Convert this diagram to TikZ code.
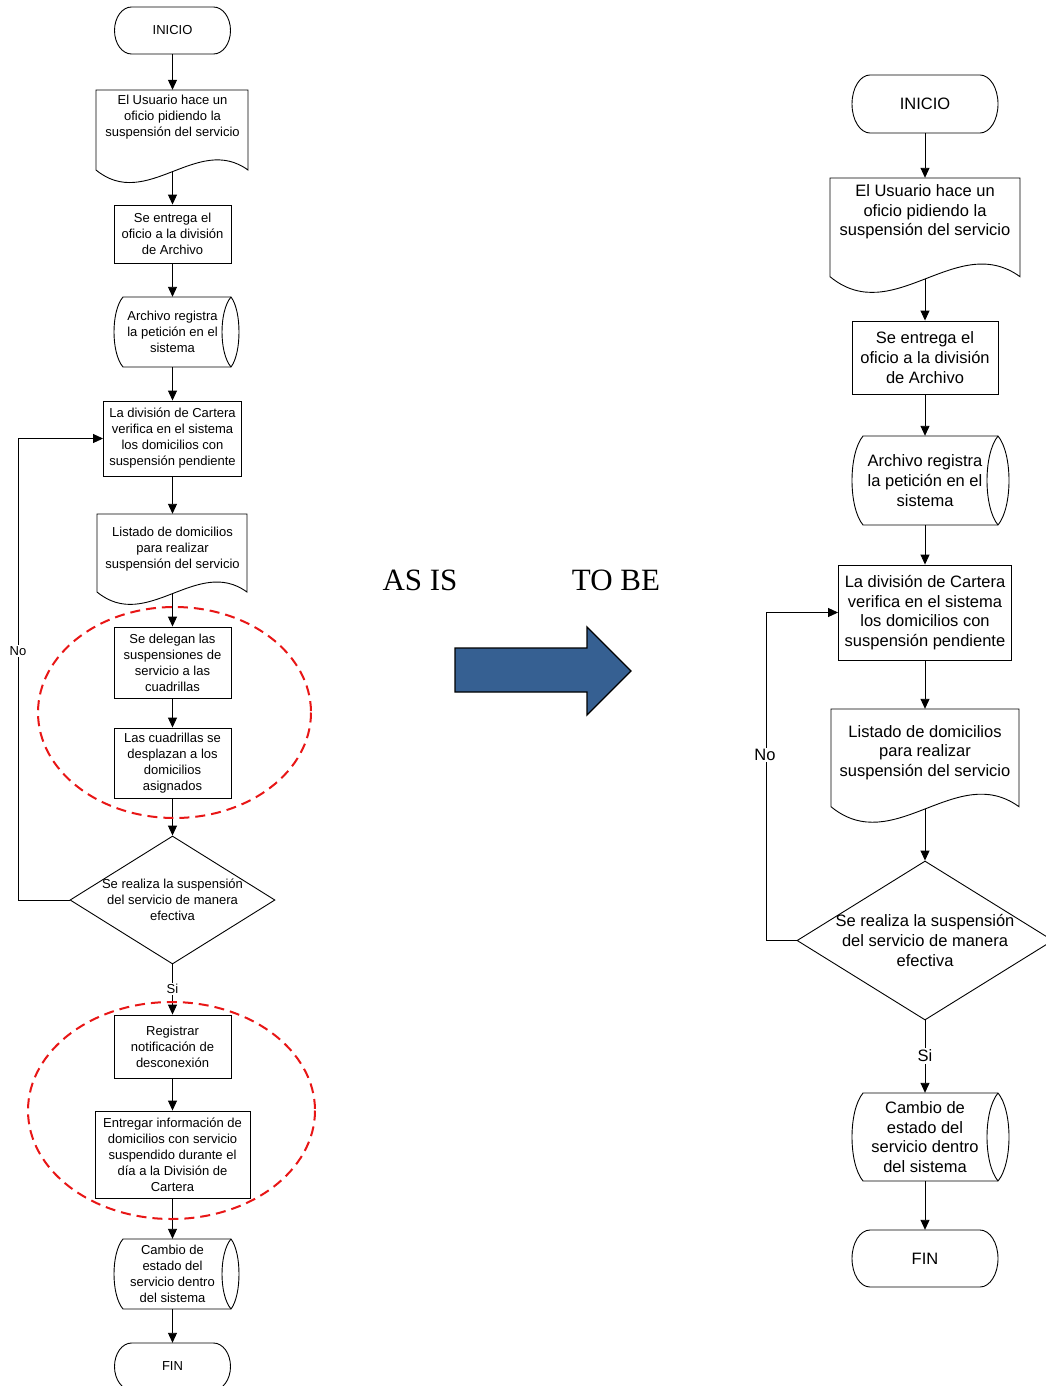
\documentclass[tikz,border=0pt]{standalone}
\usepackage{fontspec}
\setmainfont{Liberation Sans}
\newfontfamily\titleserif{Liberation Serif}
\usetikzlibrary{arrows.meta,shapes.geometric}

\definecolor{arrowblue}{RGB}{54,96,146}
\definecolor{groupred}{RGB}{232,22,22}

% terminal (start/end): #1 cx, #2 cy, #3 half width, #4 half height, #5 end radius
\newcommand\termshape[5]{%
  \pgfmathsetmacro\tmL{#1-#3}\pgfmathsetmacro\tmR{#1+#3}%
  \pgfmathsetmacro\tmT{#2-#4}\pgfmathsetmacro\tmB{#2+#4}%
  \pgfmathsetmacro\tmLi{#1-#3+#5}\pgfmathsetmacro\tmRi{#1+#3-#5}%
  \pgfmathsetmacro\tmKx{0.5523*#5}\pgfmathsetmacro\tmKy{0.5523*#4}%
  \draw[outline] (\tmLi,\tmT) -- (\tmRi,\tmT)
    .. controls +(\tmKx,0) and +(0,-\tmKy) .. (\tmR,#2)
    .. controls +(0,\tmKy) and +(\tmKx,0) .. (\tmRi,\tmB)
    -- (\tmLi,\tmB)
    .. controls +(-\tmKx,0) and +(0,\tmKy) .. (\tmL,#2)
    .. controls +(0,-\tmKy) and +(-\tmKx,0) .. (\tmLi,\tmT) -- cycle;
}

% document with wavy bottom: #1 left x, #2 right x, #3 top y, #4 y of the wave ends
\newcommand\docshape[4]{%
  \pgfmathsetmacro\dW{#2-#1}%
  \pgfmathsetmacro\dA{#4+0.274*\dW}%
  \pgfmathsetmacro\dB{#4-0.242*\dW}%
  \pgfmathsetmacro\dPa{#1+0.333*\dW}%
  \pgfmathsetmacro\dPb{#1+0.667*\dW}%
  \draw[outline] (#1,#4) -- (#1,#3) -- (#2,#3) -- (#2,#4)
    .. controls (\dPb,\dB) and (\dPa,\dA) .. (#1,#4) -- cycle;
}

% stored data: #1 leftmost x, #2 left corner x, #3 right corner x, #4 rightmost x,
% #5 inner arc x, #6 top y, #7 bottom y
\newcommand\storeshape[7]{%
  \pgfmathsetmacro\sH{#7-#6}%
  \pgfmathsetmacro\sTa{#6+0.2*\sH}\pgfmathsetmacro\sBa{#7-0.2*\sH}%
  \pgfmathsetmacro\sLc{#1-(#2-#1)/3}%
  \pgfmathsetmacro\sRc{#4+(#4-#3)/3}%
  \pgfmathsetmacro\sIc{#5-(#3-#5)/3}%
  \draw[outline] (#2,#6) -- (#3,#6)
    .. controls (\sRc,\sTa) and (\sRc,\sBa) .. (#3,#7) -- (#2,#7)
    .. controls (\sLc,\sBa) and (\sLc,\sTa) .. (#2,#6) -- cycle;
  \draw[outline] (#3,#6) .. controls (\sIc,\sTa) and (\sIc,\sBa) .. (#3,#7);
}

\begin{document}
\begin{tikzpicture}[x=1pt,y=-1pt,
  outline/.style={line width=0.9pt},
  ghost/.style={inner sep=0pt, align=center},
  box/.style={draw, line width=0.9pt, inner sep=0pt, align=center},
  Lt/.style={font=\fontsize{13}{16}\selectfont},
  Rt/.style={font=\fontsize{16.5}{19.7}\selectfont},
  flow/.style={line width=0.9pt, -{Triangle[length=10pt,width=9pt]}},
  lbl/.style={fill=white, inner sep=1.5pt},
  groupring/.style={draw=groupred, line width=2pt, dash pattern=on 10pt off 6pt},
  decision/.style={draw, line width=0.9pt, diamond, inner sep=0pt}
]
\fill[white] (0,0) rectangle (1045,1386);
\useasboundingbox (0,0) rectangle (1045,1386);

% ---------------- current process (left) ----------------
\termshape{172.5}{30.5}{58}{23.5}{17}
\node[ghost,Lt,minimum width=116,minimum height=47] (li) at (172.5,30.5) {INICIO};

\docshape{96}{248}{90}{170}
\node[ghost,Lt,minimum width=152,minimum height=54] (ld1) at (172.5,117)
  {El Usuario hace un\\oficio pidiendo la\\suspensión del servicio};
\coordinate (ld1b) at (172.5,172);

\node[box,Lt,minimum width=117,minimum height=58] (lb2) at (172.5,234)
  {Se entrega el\\oficio a la división\\de Archivo};

\storeshape{114}{123}{231}{239}{222}{297}{367}
\node[ghost,Lt,minimum width=116,minimum height=70] (ls3) at (172.5,332)
  {Archivo registra\\la petición en el\\sistema};

\node[box,Lt,minimum width=138,minimum height=75] (lb4) at (172.5,438.5)
  {La división de Cartera\\verifica en el sistema\\los domicilios con\\suspensión pendiente};

\docshape{97}{247}{514}{592}
\node[ghost,Lt,minimum width=150,minimum height=70] (ld5) at (172.5,549)
  {Listado de domicilios\\para realizar\\suspensión del servicio};
\coordinate (ld5b) at (172.5,594);

\node[box,Lt,minimum width=117,minimum height=71] (lb6) at (172.5,662.5)
  {Se delegan las\\suspensiones de\\servicio a las\\cuadrillas};

\node[box,Lt,minimum width=117,minimum height=70] (lb7) at (172.5,763)
  {Las cuadrillas se\\desplazan a los\\domicilios\\asignados};

\node[decision,minimum width=205,minimum height=128,
  label={[name=lq8t,Lt,align=center]center:{Se realiza la suspensión\\del servicio de manera\\efectiva}}]
  (lq8) at (172.5,900) {};

\node[box,Lt,minimum width=117,minimum height=63] (lb9) at (172.5,1046.5)
  {Registrar\\notificación de\\desconexión};

\node[box,Lt,minimum width=155,minimum height=87] (lb10) at (172.5,1154.5)
  {Entregar información de\\domicilios con servicio\\suspendido durante el\\día a la División de\\Cartera};

\storeshape{114}{123}{231}{239}{222}{1239}{1309}
\node[ghost,Lt,minimum width=116,minimum height=70] (ls11) at (172.5,1274)
  {Cambio de\\estado del\\servicio dentro\\del sistema};

\termshape{172.5}{1366.5}{58}{23.5}{17}
\node[ghost,Lt,minimum width=116,minimum height=47] (lf) at (172.5,1366.5) {FIN};

\draw[flow] (li) -- (ld1);
\draw[flow] (ld1b) -- (lb2);
\draw[flow] (lb2) -- (ls3);
\draw[flow] (ls3) -- (lb4);
\draw[flow] (lb4) -- (ld5);
\draw[flow] (ld5b) -- (lb6);
\draw[flow] (lb6) -- (lb7);
\draw[flow] (lb7) -- (lq8);
\draw[flow] (lq8) -- (lb9);
\draw[flow] (lb9) -- (lb10);
\draw[flow] (lb10) -- (ls11);
\draw[flow] (ls11) -- (lf);
\coordinate (lnoc) at (18,900);
\draw[flow] (lq8.west) -- (lnoc) |- (lb4);
\node[lbl,Lt] (lno) at (18,651) {No};
\node[lbl,Lt] (lsi) at (172.5,989) {Si};

% groups marked for change
\draw[groupring] (174.5,712.5) ellipse [x radius=136.5, y radius=105.5];
\draw[groupring] (171.5,1110.5) ellipse [x radius=143.5, y radius=108.5];

% ---------------- transition ----------------
\node[font=\titleserif\fontsize{31}{36}\selectfont,inner sep=0pt] (asis) at (420,580) {AS IS};
\node[font=\titleserif\fontsize{31}{36}\selectfont,inner sep=0pt] (tobe) at (616,580) {TO BE};
\draw[fill=arrowblue, line width=1.3pt, line join=miter]
  (455,648) -- (587,648) -- (587,627) -- (631,671) -- (587,715) -- (587,692) -- (455,692) -- cycle;

% ---------------- proposed process (right) ----------------
\termshape{925}{104}{73}{29}{18}
\node[ghost,Rt,minimum width=146,minimum height=58] (ri) at (925,104) {INICIO};

\docshape{830}{1020}{178}{276.7}
\node[ghost,Rt,minimum width=190,minimum height=68] (rd1) at (925,212)
  {El Usuario hace un\\oficio pidiendo la\\suspensión del servicio};
\coordinate (rd1b) at (925,279);

\node[box,Rt,minimum width=146,minimum height=73] (rb2) at (925,357.5)
  {Se entrega el\\oficio a la división\\de Archivo};

\storeshape{852}{863}{998}{1009}{987}{436}{525}
\node[ghost,Rt,minimum width=146,minimum height=89] (rs3) at (925,480.5)
  {Archivo registra\\la petición en el\\sistema};

\node[box,Rt,minimum width=173,minimum height=95] (rb4) at (925,612.5)
  {La división de Cartera\\verifica en el sistema\\los domicilios con\\suspensión pendiente};

\docshape{831}{1019}{709}{806.7}
\node[ghost,Rt,minimum width=188,minimum height=87] (rd5) at (925,752.5)
  {Listado de domicilios\\para realizar\\suspensión del servicio};
\coordinate (rd5b) at (925,809);

\node[decision,minimum width=256,minimum height=159,
  label={[name=rq6t,Rt,align=center]center:{Se realiza la suspensión\\del servicio de manera\\efectiva}}]
  (rq6) at (925,940.5) {};

\storeshape{852}{863}{998}{1009}{987}{1093}{1181}
\node[ghost,Rt,minimum width=146,minimum height=88] (rs7) at (925,1137)
  {Cambio de\\estado del\\servicio dentro\\del sistema};

\termshape{925}{1258.5}{73}{28.5}{18}
\node[ghost,Rt,minimum width=146,minimum height=57] (rf) at (925,1258.5) {FIN};

\draw[flow] (ri) -- (rd1);
\draw[flow] (rd1b) -- (rb2);
\draw[flow] (rb2) -- (rs3);
\draw[flow] (rs3) -- (rb4);
\draw[flow] (rb4) -- (rd5);
\draw[flow] (rd5b) -- (rq6);
\draw[flow] (rq6) -- (rs7);
\draw[flow] (rs7) -- (rf);
\coordinate (rnoc) at (766,940.5);
\draw[flow] (rq6.west) -- (rnoc) |- (rb4);
\node[lbl,Rt] (rno) at (765,755) {No};
\node[lbl,Rt] (rsi) at (925,1056) {Si};

\end{tikzpicture}
\end{document}
